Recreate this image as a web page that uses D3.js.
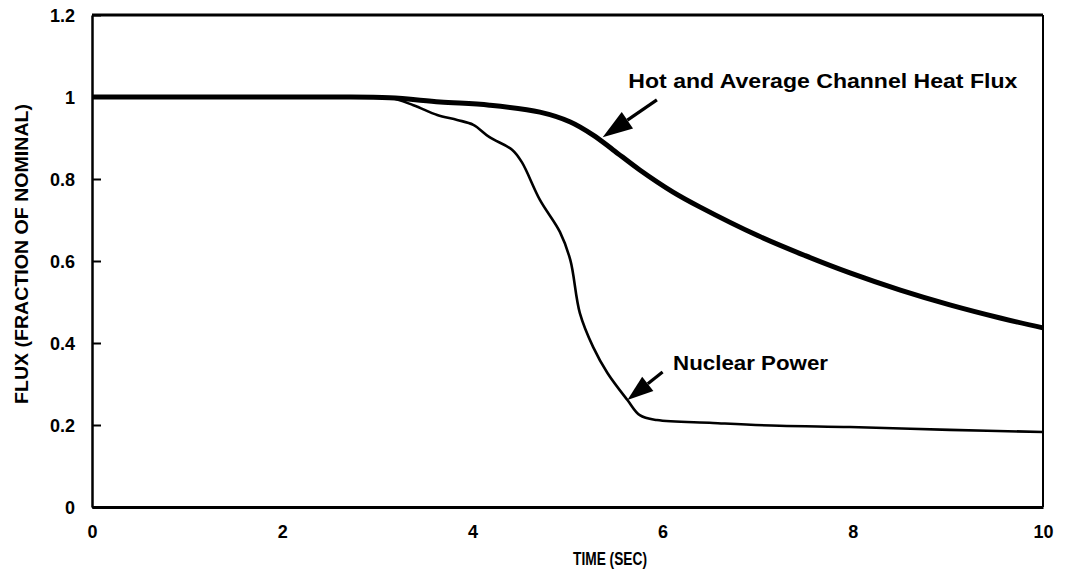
<!DOCTYPE html>
<html>
<head>
<meta charset="utf-8">
<script src="https://cdn.jsdelivr.net/npm/d3@7"></script>
<style>
  html, body { margin: 0; padding: 0; background: #fff; }
  svg { display: block; }
  text { font-family: "Liberation Sans", Arial, Helvetica, sans-serif; font-weight: bold; fill: #000; }
</style>
</head>
<body>
<svg id="chart" width="1070" height="577"></svg>
<script>
// Time (s) and normalized flux for the two transients
const heatFluxTime  = [0, 1, 2, 2.6, 3.13, 3.66, 4.18, 4.71, 5.03, 5.27, 5.48, 5.76, 6.11, 6.39, 7.0, 7.5, 7.97, 8.5, 9.02, 9.55, 10];
const heatFluxValue = [1.0, 1.0, 1.0, 1.0, 0.998, 0.988, 0.98, 0.963, 0.939, 0.907, 0.871, 0.822, 0.768, 0.732, 0.662, 0.613, 0.571, 0.529, 0.493, 0.461, 0.437];

const powerTime  = [0, 1, 2, 2.6, 3.13, 3.38, 3.63, 3.84, 4.01, 4.18, 4.42, 4.52, 4.71, 4.92, 5.03, 5.13, 5.27, 5.42, 5.63, 5.76, 5.94, 6.53, 7.23, 7.97, 9.02, 10];
const powerValue = [1.0, 1.0, 1.0, 1.0, 0.998, 0.98, 0.956, 0.944, 0.932, 0.902, 0.871, 0.841, 0.749, 0.671, 0.602, 0.473, 0.39, 0.327, 0.261, 0.224, 0.212, 0.205, 0.198, 0.195, 0.188, 0.183];

const xTicks = [0, 2, 4, 6, 8, 10];
const yTicks = [0, 0.2, 0.4, 0.6, 0.8, 1.0, 1.2];
const yTickLabels = ["0", "0.2", "0.4", "0.6", "0.8", "1", "1.2"];

// Annotation anchors in data units: [tailT, tailV, tipT, tipV]
const heatFluxArrow = [5.94, 0.993, 5.37, 0.902];
const powerArrow    = [6.00, 0.329, 5.63, 0.261];
const heatFluxLabel = { t: 5.64, v: 1.022, text: "Hot and Average Channel Heat Flux" };
const powerLabel    = { t: 6.11, v: 0.334, text: "Nuclear Power" };

const svg = d3.select("#chart");
const x = d3.scaleLinear().domain([0, 10]).range([92, 1043]);
const y = d3.scaleLinear().domain([0, 1.2]).range([507, 15]);

// Frame
svg.append("line").attr("x1", x(0)).attr("x2", x(10)).attr("y1", y(1.2)).attr("y2", y(1.2))
  .attr("stroke", "#000").attr("stroke-width", 3);
svg.append("line").attr("x1", x(10)).attr("x2", x(10)).attr("y1", y(1.2)).attr("y2", y(0))
  .attr("stroke", "#000").attr("stroke-width", 2);

// Left axis with inward ticks
const yAxis = svg.append("g").attr("transform", `translate(${x(0)},0)`)
  .call(d3.axisLeft(y).tickValues(yTicks).tickSizeInner(-9).tickSizeOuter(0).tickPadding(17)
    .tickFormat((d, i) => yTickLabels[i]));
yAxis.select(".domain").attr("stroke-width", 2.5);
yAxis.selectAll(".tick line").attr("stroke-width", 2);
yAxis.selectAll(".tick text").attr("font-size", 18).attr("font-family", null).attr("dy", "0.34em");

// Bottom axis
const xAxis = svg.append("g").attr("transform", `translate(0,${y(0)})`)
  .call(d3.axisBottom(x).tickValues(xTicks).tickSize(0).tickPadding(18).tickFormat(d3.format("d")));
xAxis.select(".domain").attr("stroke-width", 3);
xAxis.selectAll(".tick text").attr("font-size", 18).attr("font-family", null);

// Axis titles
svg.append("text").attr("x", 610).attr("y", 565).attr("text-anchor", "middle")
  .attr("font-size", 19).attr("textLength", 74).attr("lengthAdjust", "spacingAndGlyphs")
  .text("TIME  (SEC)");
svg.append("text").attr("transform", "translate(28,254) rotate(-90)").attr("text-anchor", "middle")
  .attr("font-size", 18).attr("textLength", 300).attr("lengthAdjust", "spacingAndGlyphs")
  .text("FLUX (FRACTION OF NOMINAL)");

// Curves
const line = d3.line().x(d => x(d[0])).y(d => y(d[1])).curve(d3.curveCatmullRom.alpha(0.5));
svg.append("path").datum(powerTime.map((t, i) => [t, powerValue[i]]))
  .attr("d", line).attr("fill", "none").attr("stroke", "#000").attr("stroke-width", 2.6)
  .attr("stroke-linejoin", "round");
svg.append("path").datum(heatFluxTime.map((t, i) => [t, heatFluxValue[i]]))
  .attr("d", line).attr("fill", "none").attr("stroke", "#000").attr("stroke-width", 5)
  .attr("stroke-linejoin", "round");

// Arrows: shaft plus filled triangular head
function arrow(a, headLen, headHalf) {
  const x0 = x(a[0]), y0 = y(a[1]), x1 = x(a[2]), y1 = y(a[3]);
  const ang = Math.atan2(y1 - y0, x1 - x0);
  const bx = x1 - headLen * Math.cos(ang), by = y1 - headLen * Math.sin(ang);
  svg.append("line").attr("x1", x0).attr("y1", y0).attr("x2", bx).attr("y2", by)
    .attr("stroke", "#000").attr("stroke-width", 3.2);
  const px = -Math.sin(ang) * headHalf, py = Math.cos(ang) * headHalf;
  svg.append("polygon")
    .attr("points", [[x1, y1], [bx + px, by + py], [bx - px, by - py]].map(p => p.join(",")).join(" "))
    .attr("fill", "#000");
}
arrow(heatFluxArrow, 30, 10);
arrow(powerArrow, 26, 9);

// Labels
svg.append("text").attr("x", x(heatFluxLabel.t)).attr("y", y(heatFluxLabel.v))
  .attr("font-size", 21).attr("textLength", 389).attr("lengthAdjust", "spacingAndGlyphs")
  .text(heatFluxLabel.text);
svg.append("text").attr("x", x(powerLabel.t)).attr("y", y(powerLabel.v))
  .attr("font-size", 21).attr("textLength", 155).attr("lengthAdjust", "spacingAndGlyphs")
  .text(powerLabel.text);
</script>
</body>
</html>
